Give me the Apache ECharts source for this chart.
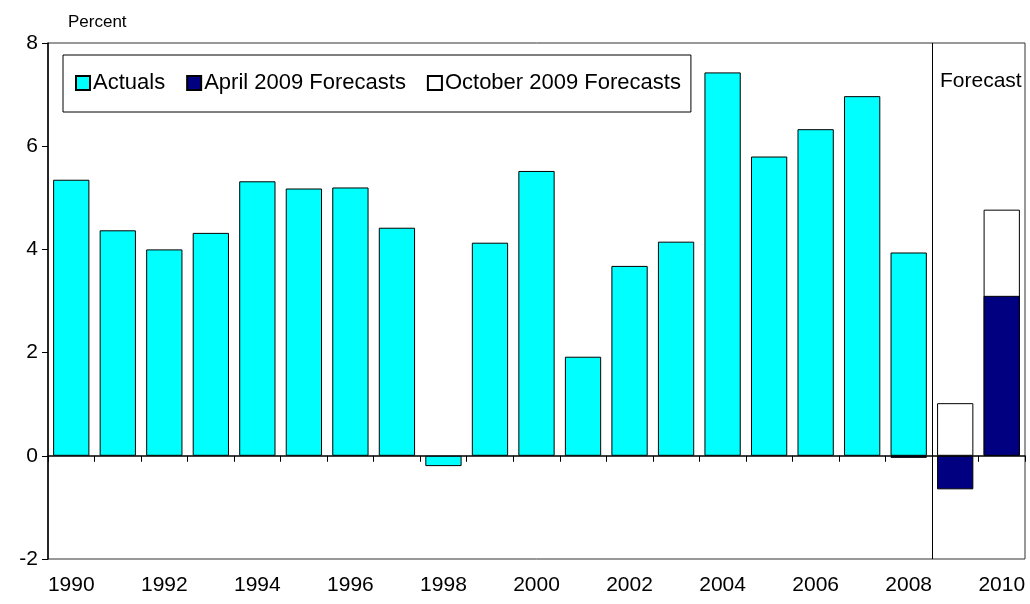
<!DOCTYPE html>
<html>
<head>
<meta charset="utf-8">
<script src="https://cdn.jsdelivr.net/npm/echarts@6/dist/echarts.min.js"></script>
<style>
  html, body { margin: 0; padding: 0; background: #fff; }
  #chart { width: 1030px; height: 604px; }
</style>
</head>
<body>
<div id="chart"></div>
<script>
// Years on the category axis
const years = ['1990','1991','1992','1993','1994','1995','1996','1997','1998','1999',
               '2000','2001','2002','2003','2004','2005','2006','2007','2008','2009','2010'];

// Annual growth, percent
const actuals = [5.35, 4.37, 4.00, 4.32, 5.32, 5.18, 5.20, 4.42, -0.20, 4.13,
                 5.52, 1.92, 3.68, 4.15, 7.43, 5.80, 6.33, 6.97, 3.94, null, null];
const aprilForecasts = [null, null, null, null, null, null, null, null, null, null,
                        null, null, null, null, null, null, null, null, -0.04, -0.65, 3.10];
const octoberForecasts = [null, null, null, null, null, null, null, null, null, null,
                          null, null, null, null, null, null, null, null, null, 1.02, 4.77];

// Y axis ticks
const yMin = -2, yMax = 8, yStep = 2;

// First forecast year: a divider is drawn at its left edge
const forecastStart = years.indexOf('2009');

const FONT = 'Liberation Sans, Arial, sans-serif';
const chart = echarts.init(document.getElementById('chart'));

const barBase = {
  type: 'bar',
  xAxisIndex: 0,
  yAxisIndex: 0,
  barGap: '-100%',
  barCategoryGap: '22%',
  animation: false
};

chart.setOption({
  animation: false,
  textStyle: { fontFamily: FONT, color: '#000' },
  title: [
    { text: 'Percent', left: 63, top: 9,
      textStyle: { fontFamily: FONT, fontSize: 17, fontWeight: 'normal', color: '#000' } },
    { text: 'Forecast', left: 935, top: 66,
      textStyle: { fontFamily: FONT, fontSize: 21, fontWeight: 'normal', color: '#000' } }
  ],
  legend: {
    data: ['Actuals', 'April 2009 Forecasts', 'October 2009 Forecasts'],
    left: 63, top: 55,
    padding: [17, 10, 18, 12],
    backgroundColor: '#fff',
    borderColor: '#000', borderWidth: 1,
    itemWidth: 14, itemHeight: 14, itemGap: 21,
    icon: 'rect',
    textStyle: { fontFamily: FONT, fontSize: 22, color: '#000', padding: [0, 0, 0, -2] }
  },
  grid: {
    left: 48, right: 5, top: 43, bottom: 45,
    show: true, borderColor: '#333', borderWidth: 1, backgroundColor: 'transparent'
  },
  xAxis: [
    { // zero line with ticks at the year boundaries
      type: 'category', data: years, position: 'bottom',
      axisLine: { onZero: true, lineStyle: { color: '#000', width: 1.5 } },
      axisTick: { show: true, interval: 0, length: 6, lineStyle: { color: '#000' } },
      axisLabel: { show: false }
    },
    { // year labels along the bottom edge
      type: 'category', data: years, position: 'bottom',
      axisLine: { show: false, onZero: false },
      axisTick: { show: false },
      axisLabel: { interval: 1, margin: 16, fontFamily: FONT, fontSize: 21, color: '#000' }
    },
    { // continuous scale over the categories, used for the divider
      type: 'value', min: 0, max: years.length, show: false
    }
  ],
  yAxis: {
    type: 'value', min: yMin, max: yMax, interval: yStep,
    axisLine: { show: true, lineStyle: { color: '#000', width: 1.5 } },
    axisTick: { show: true, length: 6, lineStyle: { color: '#000' } },
    axisLabel: { margin: 10, fontFamily: FONT, fontSize: 21, color: '#000' },
    splitLine: { show: false }
  },
  series: [
    Object.assign({}, barBase, {
      name: 'Actuals', data: actuals,
      itemStyle: { color: '#00FFFF', borderColor: '#000', borderWidth: 1 }
    }),
    Object.assign({}, barBase, {
      name: 'October 2009 Forecasts', data: octoberForecasts,
      itemStyle: { color: '#FFFFFF', borderColor: '#000', borderWidth: 1 }
    }),
    Object.assign({}, barBase, {
      name: 'April 2009 Forecasts', data: aprilForecasts,
      itemStyle: { color: '#000080', borderColor: '#000', borderWidth: 1 }
    }),
    {
      type: 'line', xAxisIndex: 2, yAxisIndex: 0, data: [], silent: true,
      markLine: {
        silent: true, symbol: ['none', 'none'], animation: false,
        label: { show: false },
        lineStyle: { color: '#000', width: 1, type: 'solid' },
        data: [{ xAxis: forecastStart }]
      }
    }
  ]
});
</script>
</body>
</html>
